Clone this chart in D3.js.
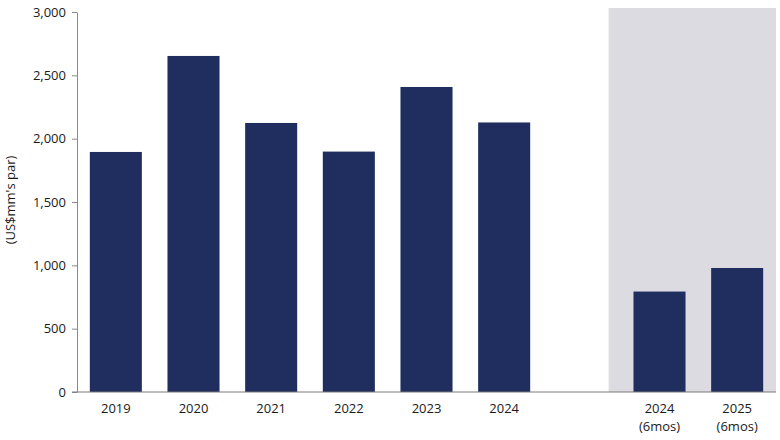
<!DOCTYPE html>
<html>
<head>
<meta charset="utf-8">
<script src="https://cdn.jsdelivr.net/npm/d3@7"></script>
<style>
  body { margin: 0; background: #fff; }
  text { font-family: "Open Sans", "Noto Sans", sans-serif; }
</style>
</head>
<body>
<div class="chart"></div>
<script>
// categories ("" is the empty gap slot before the half-year bars)
const categories = ['2019', '2020', '2021', '2022', '2023', '2024', '', '2024 (6mos)', '2025 (6mos)'];
const values = [1895, 2653, 2124, 1898, 2408, 2128, null, 793, 979];
const shadedCategories = ['2024 (6mos)', '2025 (6mos)'];
const yTicks = [0, 500, 1000, 1500, 2000, 2500, 3000];

const data = categories.map((c, i) => ({ cat: c, value: values[i] }));

const width = 780;
const height = 440;
const margin = { top: 12, right: 4, bottom: 48, left: 77 };

const svg = d3.select('.chart')
    .append('svg')
    .attr('width', width)
    .attr('height', height);

const x = d3.scaleBand()
    .domain(categories)
    .range([margin.left, width - margin.right])
    .paddingInner(0.33)
    .paddingOuter(0.165);

const y = d3.scaleLinear()
    .domain([0, 3000])
    .range([height - margin.bottom, margin.top]);

// shaded half-year panel
const shadeStart = x(shadedCategories[0]) - x.step() * 0.32;
svg.append('rect')
    .attr('x', shadeStart)
    .attr('y', y(3000) - 4)
    .attr('width', width - margin.right - shadeStart)
    .attr('height', y(0) - y(3000) + 4)
    .attr('fill', '#dcdbe1');

// bars
svg.selectAll('.bar')
    .data(data.filter(d => d.value != null))
    .enter()
    .append('rect')
    .attr('class', 'bar')
    .attr('x', d => x(d.cat))
    .attr('width', x.bandwidth())
    .attr('y', d => y(d.value))
    .attr('height', d => y(0) - y(d.value))
    .attr('fill', '#1f2e5e');

// y axis
const yAxis = svg.append('g')
    .attr('transform', `translate(${margin.left},0)`)
    .call(d3.axisLeft(y).tickValues(yTicks).tickFormat(d3.format(',')).tickSize(5).tickSizeOuter(0).tickPadding(6));
yAxis.select('.domain').attr('stroke', '#8a8a8a');
yAxis.selectAll('.tick line').attr('stroke', '#8a8a8a');
yAxis.selectAll('text').attr('font-size', '13px').attr('fill', '#1a1a1a');

// baseline
svg.append('line')
    .attr('x1', margin.left - 5)
    .attr('x2', width - margin.right)
    .attr('y1', y(0))
    .attr('y2', y(0))
    .attr('stroke', '#7a7a7a');

// x labels (split into two lines)
const labels = svg.selectAll('.x-label')
    .data(data.filter(d => d.cat !== ''))
    .enter()
    .append('text')
    .attr('class', 'x-label')
    .attr('text-anchor', 'middle')
    .attr('font-size', '13px')
    .attr('fill', '#1a1a1a')
    .attr('x', d => x(d.cat) + x.bandwidth() / 2)
    .attr('y', y(0) + 21);
labels.each(function(d) {
    const parts = d.cat.split(' ');
    const t = d3.select(this);
    parts.forEach((p, i) => {
        t.append('tspan')
            .attr('x', x(d.cat) + x.bandwidth() / 2)
            .attr('dy', i === 0 ? 0 : 18)
            .text(p);
    });
});

// y axis title
svg.append('text')
    .attr('transform', `translate(15,${(y(0) + y(3000)) / 2 - 2}) rotate(-90)`)
    .attr('text-anchor', 'middle')
    .attr('font-size', '13px')
    .attr('fill', '#1a1a1a')
    .text("(US$mm's par)");
</script>
</body>
</html>
